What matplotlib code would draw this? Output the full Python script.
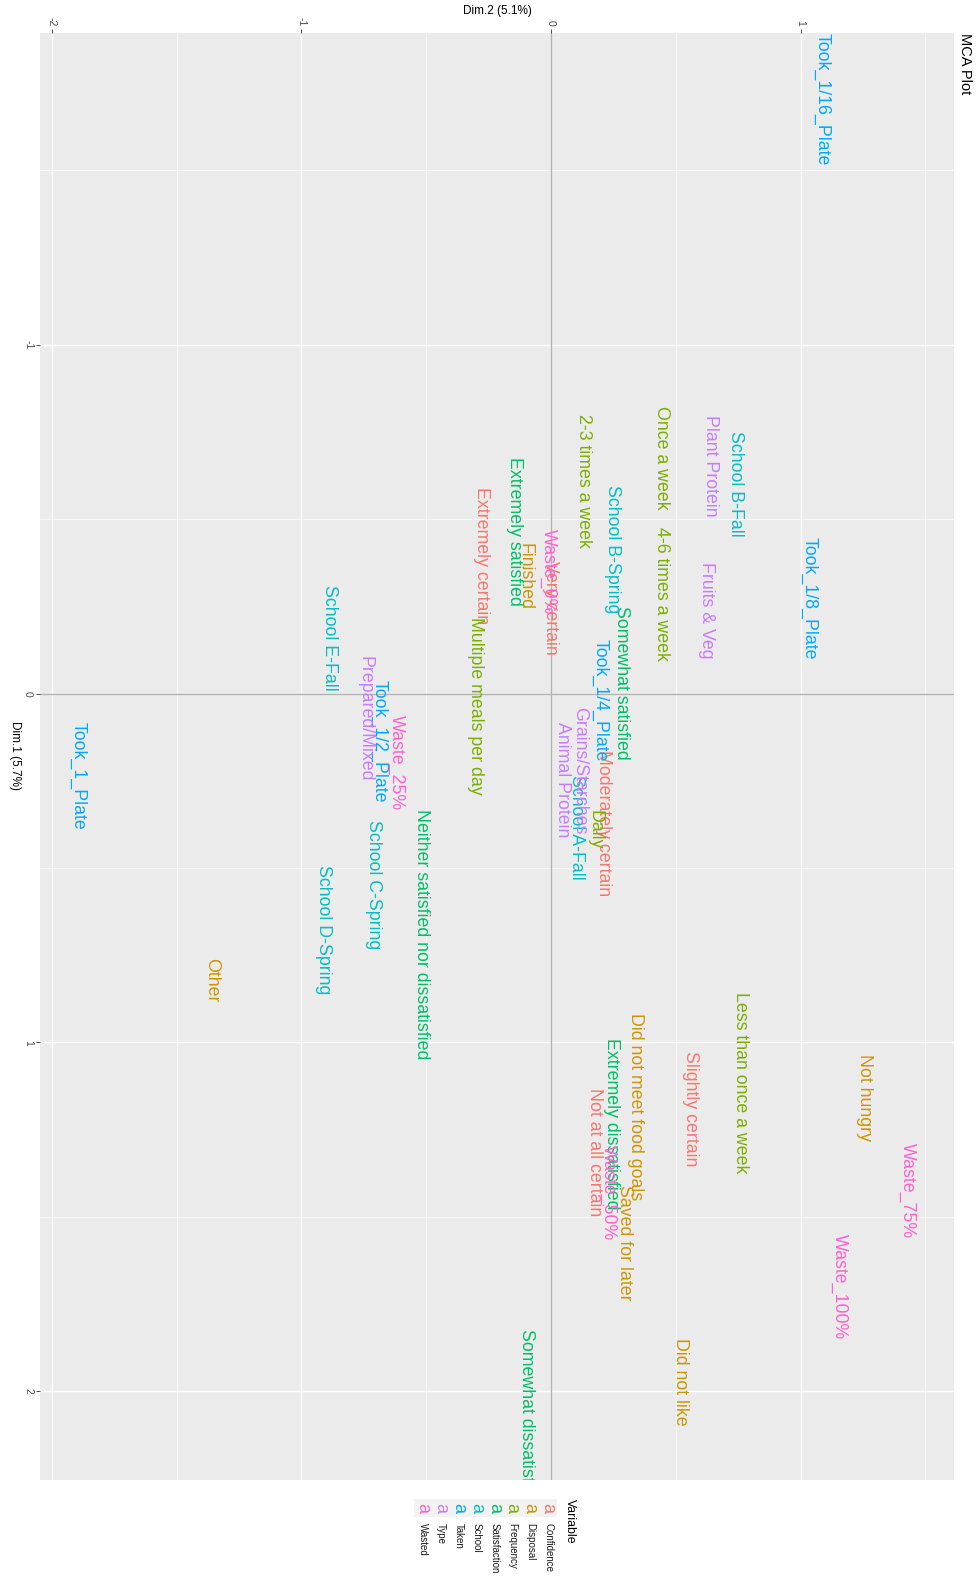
import matplotlib
matplotlib.use("Agg")
import matplotlib.pyplot as plt
from matplotlib.patches import Rectangle

plt.rcParams['font.family'] = ['Liberation Sans', 'DejaVu Sans']

# ---------------- data (MCA variable categories) ----------------
variables = ["Confidence", "Disposal", "Frequency", "Satisfaction",
             "School", "Taken", "Type", "Wasted"]
var_colors = ["#F8766D", "#CD9600", "#7CAE00", "#00BE67",
              "#00BFC4", "#00A9FF", "#C77CFF", "#FF61CC"]

labels = [
    # Confidence
    "Extremely certain", "Very certain", "Moderately certain", "Slightly certain", "Not at all certain",
    # Disposal
    "Finished", "Other", "Not hungry", "Did not meet food goals", "Saved for later", "Did not like",
    # Frequency
    "Once a week", "2-3 times a week", "4-6 times a week", "Multiple meals per day", "Daily",
    "Less than once a week",
    # Satisfaction
    "Extremely satisfied", "Somewhat satisfied", "Neither satisfied nor dissatisfied",
    "Extremely dissatisfied", "Somewhat dissatisfied",
    # School
    "School B-Fall", "School B-Spring", "School E-Fall", "School A-Fall", "School C-Spring", "School D-Spring",
    # Taken
    "Took_1/16_Plate", "Took_1/8_Plate", "Took_1/4_Plate", "Took_1/2_Plate", "Took_1_Plate",
    # Type
    "Plant Protein", "Fruits & Veg", "Grains/Starches", "Animal Protein", "Prepared/Mixed",
    # Wasted
    "Waste_0%", "Waste_25%", "Waste_50%", "Waste_75%", "Waste_100%",
]
groups = (["Confidence"] * 5 + ["Disposal"] * 6 + ["Frequency"] * 6 + ["Satisfaction"] * 5 +
          ["School"] * 6 + ["Taken"] * 5 + ["Type"] * 5 + ["Wasted"] * 5)

dim1 = [
    -0.394, -0.246, 0.370, 1.190, 1.315,
    -0.335, 0.821, 1.158, 1.184, 1.573, 1.973,
    -0.675, -0.609, -0.285, 0.034, 0.391, 1.116,
    -0.464, -0.030, 0.691, 1.234, 2.073,
    -0.602, -0.414, -0.160, 0.385, 0.547, 0.677,
    -1.702, -0.272, 0.019, 0.136, 0.236,
    -0.654, -0.239, 0.222, 0.248, 0.072,
    -0.349, 0.199, 1.431, 1.425, 1.699,
]
dim2 = [
    -0.278, 0.000, 0.212, 0.560, 0.176,
    -0.104, -1.358, 1.255, 0.339, 0.296, 0.518,
    0.443, 0.130, 0.443, -0.303, 0.176, 0.760,
    -0.144, 0.284, -0.517, 0.243, -0.098,
    0.740, 0.246, -0.887, 0.103, -0.709, -0.911,
    1.086, 1.034, 0.198, -0.689, -1.893,
    0.639, 0.623, 0.116, 0.045, -0.746,
    -0.010, -0.617, 0.230, 1.428, 1.158,
]

dim2_ticks = [-2, -1, 0, 1]
dim1_ticks = [-1, 0, 1, 2]
dim2_minor = [-1.5, -0.5, 0.5, 1.5]
dim1_minor = [-1.5, -0.5, 0.5, 1.5]

# ---------------- figure ----------------
W, H = 976, 1576
fig = plt.figure(figsize=(W / 100, H / 100), dpi=100)
fig.patch.set_facecolor("white")

px_l, px_r, px_t, px_b = 40, 954, 33, 1480
ax = fig.add_axes([px_l / W, 1 - px_b / H, (px_r - px_l) / W, (px_b - px_t) / H])
ax.set_facecolor("#EBEBEB")
for s in ax.spines.values():
    s.set_visible(False)

ax.set_xlim(-2.047, 1.615)
ax.set_ylim(2.254, -1.893)

# grid
for v in dim2_minor:
    ax.axvline(v, color="white", lw=0.5, zorder=0)
for v in dim1_minor:
    ax.axhline(v, color="white", lw=0.5, zorder=0)
for v in dim2_ticks:
    ax.axvline(v, color="white", lw=1.0, zorder=0)
for v in dim1_ticks:
    ax.axhline(v, color="white", lw=1.0, zorder=0)
# zero lines
ax.axvline(0, color="#B3B3B3", lw=1.0, zorder=1)
ax.axhline(0, color="#B3B3B3", lw=1.0, zorder=1)

# ticks
ax.xaxis.tick_top()
ax.set_xticks(dim2_ticks)
ax.set_xticklabels([str(t) for t in dim2_ticks], rotation=-90)
ax.set_yticks(dim1_ticks)
ax.set_yticklabels([str(t) for t in dim1_ticks], rotation=-90, va="center")
ax.tick_params(axis="both", which="both", length=3, width=0.6, color="#333333",
               labelsize=7.5, labelcolor="#4D4D4D", pad=2)

# labels
col_map = dict(zip(variables, var_colors))
for lab, g, d1, d2 in zip(labels, groups, dim1, dim2):
    ax.text(d2, d1, lab, rotation=-90, ha="center", va="center",
            color=col_map[g], fontsize=12.8, clip_on=True, zorder=3)

# axis titles
fig.text(497 / W, 1 - 11 / H, "Dim.2 (5.1%)", ha="center", va="center", fontsize=8.5, color="black")
fig.text(15 / W, 1 - 756 / H, "Dim.1 (5.7%)", ha="center", va="center", fontsize=8.5,
         rotation=-90, color="black")
# title
fig.text(965 / W, 1 - px_t / H, "MCA Plot", ha="center", va="top", fontsize=10.5,
         rotation=-90, color="black")

# legend (manual, rotated)
key_x0 = 548
step = 17.9
key_top, key_h = 1499, 18
for i, (v, c) in enumerate(zip(variables, var_colors)):
    xc = key_x0 - i * step
    fig.patches.append(Rectangle(((xc - step / 2) / W, 1 - (key_top + key_h) / H),
                                 step / W, key_h / H, transform=fig.transFigure,
                                 facecolor="#F2F2F2", edgecolor="none"))
    fig.text(xc / W, 1 - (key_top + key_h / 2) / H, "a", rotation=-90, ha="center",
             va="center", color=c, fontsize=13)
    fig.text(xc / W, 1 - 1523 / H, v, rotation=-90, ha="center", va="top",
             fontsize=7, color="#1A1A1A")
fig.text(570 / W, 1 - 1499 / H, "Variable", rotation=-90, ha="center", va="top",
         fontsize=8.8, color="black")

fig.savefig("out.png", dpi=100, facecolor="white")
